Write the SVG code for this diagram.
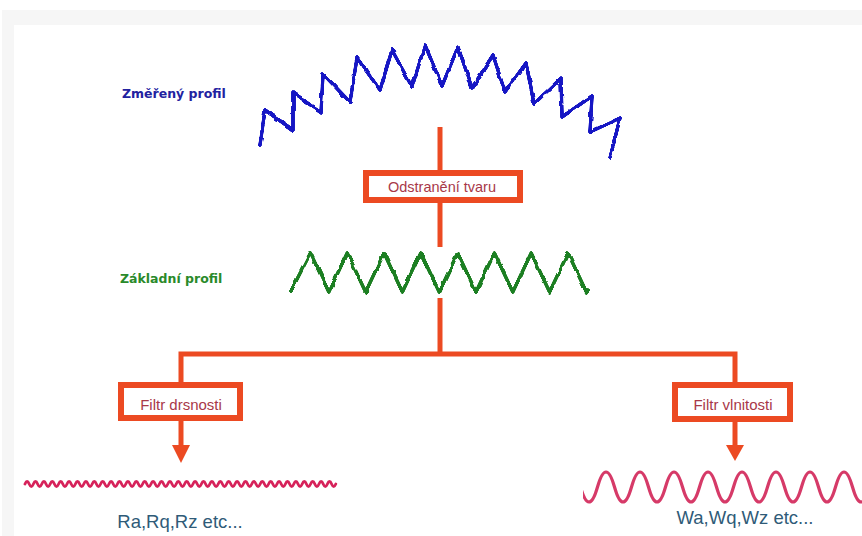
<svg xmlns="http://www.w3.org/2000/svg" xmlns:xlink="http://www.w3.org/1999/xlink" width="862" height="536" viewBox="0 0 862 536">
  <defs>
    <style>
      .conn { stroke: #ec4a22; stroke-width: 5; fill: none; }
      .box { fill: #ffffff; stroke: #ec4a22; stroke-width: 6; }
      .boxtxt { font-family: "Liberation Sans", Arial, sans-serif; fill: #a83848; text-anchor: middle; }
      .lbl { font-family: "DejaVu Sans", Verdana, sans-serif; font-weight: bold; font-size: 12.5px; }
      .res { font-family: "Liberation Sans", Arial, sans-serif; font-size: 18.5px; fill: #2f5b78; text-anchor: middle; }
      .prof { fill: none; stroke-width: 3.4; stroke-linejoin: round; stroke-linecap: round; }
    </style>
    <filter id="rough" x="-10%" y="-25%" width="120%" height="150%">
      <feTurbulence type="fractalNoise" baseFrequency="0.11" numOctaves="1" seed="4" result="n"/>
      <feDisplacementMap in="SourceGraphic" in2="n" scale="3.5" xChannelSelector="R" yChannelSelector="G" result="d"/>
      <feGaussianBlur in="d" stdDeviation="0.7" result="b"/>
      <feComponentTransfer in="b">
        <feFuncA type="linear" slope="2.2" intercept="-0.35"/>
      </feComponentTransfer>
    </filter>
    <clipPath id="rclip"><rect x="583" y="440" width="279" height="80"/></clipPath>
  </defs>

  <!-- background frame -->
  <rect x="0" y="0" width="862" height="536" fill="#ffffff"/>
  <rect x="2" y="10" width="860" height="15" fill="#f6f6f6"/>
  <rect x="2" y="10" width="12" height="526" fill="#f6f6f6"/>

  <g id="connectors">
    <line class="conn" x1="440" y1="127" x2="440" y2="172"/>
    <line class="conn" x1="440" y1="201" x2="440" y2="247"/>
    <line class="conn" x1="440" y1="298" x2="440" y2="354"/>
    <polyline class="conn" points="181,384 181,354 735,354 735,384"/>
    <line class="conn" x1="181" y1="419" x2="181" y2="447"/>
    <polygon points="172,445 190,445 181,463" fill="#ec4a22"/>
    <line class="conn" x1="735" y1="419" x2="735" y2="447"/>
    <polygon points="726,445 744,445 735,461" fill="#ec4a22"/>
  </g>

  <g id="measured-profile">
    <path class="prof" stroke="#1818c4" filter="url(#rough)" d="M260,145 L265,110 L293,130 L293,92 L321,113 L323,74 L350,102 L357,58 L380,90 L392,50 L412,87 L425,45 L442,86 L458,47 L472,88 L493,55 L505,92 L526,63 L534,104 L561,78 L562,117 L592,96 L590,132 L620,118 L610,158"/>
    <text class="lbl" x="122" y="98" fill="#2222a0">Změřený profil</text>
  </g>

  <g id="form-removal">
    <rect class="box" x="366" y="173" width="154" height="27"/>
    <text class="boxtxt" x="442" y="192" font-size="14.5">Odstranění tvaru</text>
  </g>

  <g id="basic-profile">
    <path class="prof" stroke="#1f7f24" filter="url(#rough)" d="M291,291 L310.4,253 L328.8,292 L347.2,253 L365.6,292 L384,253 L402.4,292 L420.8,253 L439.2,292 L457.6,253 L476,292 L494.4,253 L512.8,292 L531.2,253 L549.6,292 L568,253 L586.4,292 L588,290"/>
    <text class="lbl" x="120" y="283" fill="#2a8a2a">Základní profil</text>
  </g>

  <g id="roughness-filter">
    <rect class="box" x="121" y="385" width="119" height="33"/>
    <text class="boxtxt" x="181" y="410" font-size="15">Filtr drsnosti</text>
  </g>

  <g id="waviness-filter">
    <rect class="box" x="675" y="385" width="115" height="34"/>
    <text class="boxtxt" x="733" y="410" font-size="15">Filtr vlnitosti</text>
  </g>

  <g id="roughness-result">
    <path fill="none" stroke="#d6225a" stroke-width="2.8" stroke-linecap="round" d="M25,484 q2.1,-5 4.2,0 t4.2,0 t4.2,0 t4.2,0 t4.2,0 t4.2,0 t4.2,0 t4.2,0 t4.2,0 t4.2,0 t4.2,0 t4.2,0 t4.2,0 t4.2,0 t4.2,0 t4.2,0 t4.2,0 t4.2,0 t4.2,0 t4.2,0 t4.2,0 t4.2,0 t4.2,0 t4.2,0 t4.2,0 t4.2,0 t4.2,0 t4.2,0 t4.2,0 t4.2,0 t4.2,0 t4.2,0 t4.2,0 t4.2,0 t4.2,0 t4.2,0 t4.2,0 t4.2,0 t4.2,0 t4.2,0 t4.2,0 t4.2,0 t4.2,0 t4.2,0 t4.2,0 t4.2,0 t4.2,0 t4.2,0 t4.2,0 t4.2,0 t4.2,0 t4.2,0 t4.2,0 t4.2,0 t4.2,0 t4.2,0 t4.2,0 t4.2,0 t4.2,0 t4.2,0 t4.2,0 t4.2,0 t4.2,0 t4.2,0 t4.2,0 t4.2,0 t4.2,0 t4.2,0 t4.2,0 t4.2,0 t4.2,0 t4.2,0 t4.2,0 t4.2,0"/>
    <text class="res" x="180" y="528">Ra,Rq,Rz etc...</text>
  </g>

  <g id="waviness-result">
    <path clip-path="url(#rclip)" fill="none" stroke="#d63a68" stroke-width="3.2" stroke-linecap="round" d="M580.5,487 q8.5,30 17,0 q8.5,-30 17,0 t17,0 t17,0 t17,0 t17,0 t17,0 t17,0 t17,0 t17,0 t17,0 t17,0 t17,0 t17,0 t17,0 t17,0 t17,0"/>
    <text class="res" x="745" y="524">Wa,Wq,Wz etc...</text>
  </g>
</svg>
